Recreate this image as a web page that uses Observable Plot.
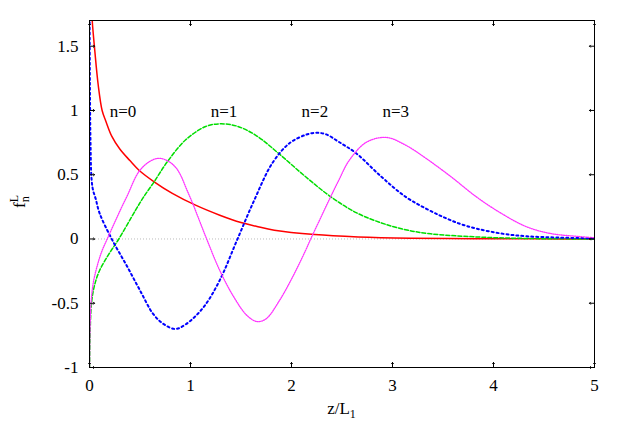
<!DOCTYPE html>
<html><head><meta charset="utf-8">
<script src="https://cdn.jsdelivr.net/npm/d3@7"></script>
<script src="https://cdn.jsdelivr.net/npm/@observablehq/plot@0.6"></script>
<style>body{margin:0;background:#fff;} svg{display:block} svg text, svg tspan{font-family:"Liberation Serif","DejaVu Serif",serif !important;}</style>
</head><body><div id="chart"></div>
<script>
const xDomain = [0, 5];
const yDomain = [-1, 1.7];
const xTicks = [0, 1, 2, 3, 4, 5];
const yTicks = [-1, -0.5, 0, 0.5, 1, 1.5];

// n=0 (red, solid)
const n0Z = [0.02,0.027,0.053,0.086,0.125,0.16,0.22,0.30,0.40,0.49,0.64,0.82,1.05,1.29,1.50,1.65,1.83,2.23,2.66,3.18,3.8,4.4,5.0];
const n0F = [1.85,1.7,1.46,1.2,1.0,0.92,0.80,0.70,0.61,0.535,0.445,0.355,0.263,0.185,0.128,0.099,0.068,0.034,0.016,0.006,0.002,0.001,0.0];
// n=1 (green, dashed)
const n1Z = [0.001,0.005,0.02,0.05,0.10,0.19,0.29,0.456,0.53,0.64,0.77,0.95,1.15,1.29,1.46,1.65,1.89,2.14,2.39,2.64,2.89,3.13,3.38,3.83,4.33,5.0];
const n1F = [-1.0,-0.78,-0.5,-0.36,-0.245,-0.12,0.0,0.224,0.32,0.445,0.60,0.77,0.875,0.896,0.878,0.805,0.654,0.484,0.328,0.205,0.125,0.072,0.04,0.016,0.004,0.0];
// n=2 (blue, dotted)
const n2Z = [0.001,0.004,0.01,0.02,0.035,0.06,0.1,0.22,0.37,0.5,0.63,0.73,0.85,0.96,1.13,1.29,1.46,1.63,1.81,1.98,2.14,2.24,2.34,2.47,2.64,2.89,3.13,3.33,3.5,3.66,3.83,4.08,4.33,4.65,5.0];
const n2F = [1.8,1.2,0.75,0.47,0.38,0.316,0.2,0.0,-0.21,-0.40,-0.583,-0.66,-0.70,-0.66,-0.53,-0.32,-0.01,0.30,0.59,0.745,0.81,0.826,0.815,0.755,0.667,0.484,0.328,0.237,0.172,0.12,0.081,0.042,0.021,0.011,0.005];
// n=3 (magenta, fine dots)
const n3Z = [0.001,0.004,0.017,0.04,0.076,0.12,0.175,0.25,0.32,0.37,0.49,0.6,0.69,0.78,0.85,0.90,0.96,1.02,1.08,1.16,1.29,1.43,1.56,1.66,1.75,1.88,2.01,2.14,2.19,2.28,2.37,2.47,2.57,2.74,2.94,3.13,3.33,3.58,3.83,4.08,4.33,4.57,4.82,5.0];
const n3F = [-1.0,-0.75,-0.48,-0.33,-0.21,-0.1,0.0,0.13,0.25,0.33,0.525,0.605,0.628,0.605,0.56,0.50,0.39,0.28,0.16,0.0,-0.245,-0.453,-0.596,-0.643,-0.62,-0.48,-0.297,-0.088,0.0,0.15,0.30,0.46,0.61,0.752,0.79,0.73,0.628,0.484,0.328,0.198,0.094,0.042,0.021,0.01];

const seriesNames = ["n=0","n=1","n=2","n=3"];
const seriesColors = ["#ff0000","#00dd00","#0000ff","#ff33ff"];
const seriesDash = [null,"4,2","2,3","1,1.2"];
const seriesWidth = [1.5,1.5,2,1.3];

const labelText = ["n=0","n=1","n=2","n=3"];
const labelZ = [0.2,1.2,2.1,2.9];
const labelF = [0.99,0.99,0.99,0.99];

const seriesZ = [n0Z,n1Z,n2Z,n3Z];
const seriesF = [n0F,n1F,n2F,n3F];
const rows = [];
seriesNames.forEach((name, k) => seriesZ[k].forEach((z, i) => rows.push({name, z, f: seriesF[k][i]})));
const labels = labelText.map((t, i) => ({t, z: labelZ[i], f: labelF[i]}));
const fmt = d => String(d);
const FONT = "'Liberation Serif', 'DejaVu Serif', serif";

const plot = Plot.plot({
  width: 623, height: 436,
  marginLeft: 89, marginRight: 29, marginTop: 20, marginBottom: 69,
  style: {fontFamily: FONT, fontSize: "17px", background: "#fff", color: "#000"},
  x: {domain: xDomain},
  y: {domain: yDomain},
  marks: [
    Plot.ruleY([0], {stroke: "#a8a8a8", strokeDasharray: "1,2", strokeWidth: 0.8}),
    ...seriesNames.map((name, k) => Plot.line(rows.filter(r => r.name === name), {
      x: "z", y: "f", stroke: seriesColors[k], strokeWidth: seriesWidth[k],
      strokeDasharray: seriesDash[k], curve: "catmull-rom", clip: true
    })),
    Plot.text(labels, {x: "z", y: "f", text: "t", textAnchor: "start", fontSize: 17, fontFamily: FONT, fill: "#000"}),
    Plot.axisX({ticks: xTicks, tickSize: 0, tickPadding: 11, tickFormat: fmt, label: null, fontSize: 17, fontFamily: FONT}),
    Plot.axisY({ticks: yTicks, tickSize: 0, tickPadding: 11, tickFormat: fmt, label: null, fontSize: 17, fontFamily: FONT}),
    Plot.vector(xTicks, {x: d => d, y: yDomain[0], length: 5, rotate: 0, anchor: "start", stroke: "#000", strokeWidth: 1}),
    Plot.vector(xTicks, {x: d => d, y: yDomain[1], length: 5, rotate: 180, anchor: "start", stroke: "#000", strokeWidth: 1}),
    Plot.vector(yTicks, {x: xDomain[0], y: d => d, length: 5, rotate: 90, anchor: "start", stroke: "#000", strokeWidth: 1}),
    Plot.vector(yTicks, {x: xDomain[1], y: d => d, length: 5, rotate: -90, anchor: "start", stroke: "#000", strokeWidth: 1}),
    Plot.frame({stroke: "#000", strokeWidth: 1})
  ]
});

const svg = d3.select(plot);
const xs = plot.scale("x");
const xl = svg.append("text")
  .attr("x", xs.apply((xDomain[0] + xDomain[1]) / 2))
  .attr("y", 414)
  .attr("text-anchor", "middle")
  .style("font-size", "17px")
  .attr("fill", "#000");
xl.append("tspan").text("z/L");
xl.append("tspan").style("font-size", "12px").attr("dy", 4).text("1");

const yl = svg.append("text")
  .attr("transform", "translate(25,208) rotate(-90)")
  .attr("text-anchor", "start")
  .style("font-size", "17px")
  .attr("fill", "#000");
yl.append("tspan").text("f");
yl.append("tspan").style("font-size", "12px").attr("dy", 4).text("n");
yl.append("tspan").style("font-size", "12px").attr("dx", -6).attr("dy", -11).text("L");

svg.selectAll("text, tspan").style("font-family", FONT);

document.getElementById("chart").appendChild(plot);
</script>
</body></html>
